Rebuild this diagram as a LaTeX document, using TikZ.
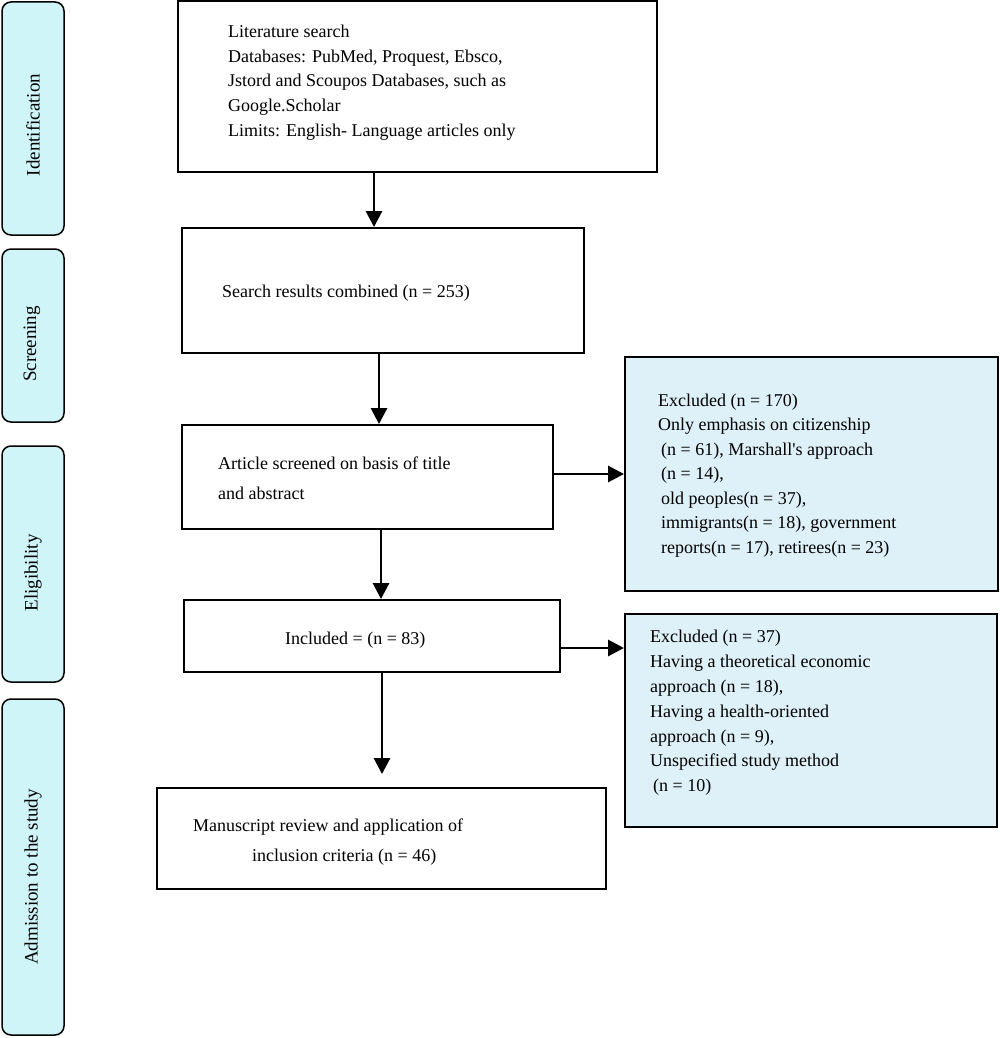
\documentclass[tikz,border=0pt]{standalone}
\usepackage{fontspec}
\setmainfont{Liberation Serif}
\usetikzlibrary{arrows.meta,calc}
\definecolor{barfill}{RGB}{208,245,249}
\definecolor{excfill}{RGB}{222,240,248}
\begin{document}
\begin{tikzpicture}[x=1pt,y=-1pt,
  box/.style={draw=black,line width=1.9pt,inner sep=0pt,rectangle},
  exbox/.style={box,fill=excfill},
  bar/.style={draw=black,line width=1.5pt,fill=barfill,rounded corners=9pt,inner sep=0pt,minimum width=62pt},
  lbl/.style={inner sep=0pt,rotate=90,font=\fontsize{19}{22}\selectfont},
  txt/.style={inner sep=0pt,anchor=west,align=left,font=\fontsize{18}{24.7}\selectfont},
  arr/.style={line width=2.8pt,-{Triangle[width=16pt,length=16pt]}}]
\useasboundingbox (0,0) rectangle (1000,1038);
% phase bars
\node[bar,minimum height=233pt] (idb) at (33,118.5) {};
\node[bar,minimum height=173pt] (scb) at (33,335.5) {};
\node[bar,minimum height=236pt] (elb) at (33,564) {};
\node[bar,minimum height=336pt] (adb) at (33,867) {};
\node[lbl] (idl) at (33,125) {Identification};
\node[lbl] (scl) at (32,344) {Screening};
\node[lbl] (ell) at (33,573) {Eligibility};
\node[lbl] (adl) at (33,877) {Admission to the study};
% main boxes
\node[box,minimum width=479pt,minimum height=171pt] (lit) at (417.5,86.5) {};
\node[box,minimum width=402pt,minimum height=125pt] (search) at (383,290.5) {};
\node[box,minimum width=371pt,minimum height=104pt] (article) at (367.5,477) {};
\node[box,minimum width=376pt,minimum height=72pt] (incl) at (372,636) {};
\node[box,minimum width=449pt,minimum height=101pt] (manu) at (381.5,838.5) {};
\node[exbox,minimum width=373pt,minimum height=234pt] (exc1) at (811.5,474) {};
\node[exbox,minimum width=372pt,minimum height=213pt] (exc2) at (811,720.5) {};
% texts
\node[txt] (littxt) at (228,82.5) {Literature search\\Databases: PubMed, Proquest, Ebsco,\\Jstord and Scoupos Databases, such as\\Google.Scholar\\Limits: English- Language articles only};
\node[txt] (searchtxt) at (222,293) {Search results combined (n = 253)};
\node[txt,font=\fontsize{18}{29.5}\selectfont] (arttxt) at (218,478) {Article screened on basis of title\\and abstract};
\node[txt] (incltxt) at (285,640) {Included = (n = 83)};
\node[txt,font=\fontsize{18}{30}\selectfont] (manutxt) at (193,842) {Manuscript review and application of\\\hspace*{59pt}inclusion criteria (n = 46)};
\node[txt,font=\fontsize{18}{24.5}\selectfont] (exc1txt) at (658,475.5) {Excluded (n = 170)\\Only emphasis on citizenship\\\hspace*{3pt}(n = 61), Marshall\textquotesingle s approach\\\hspace*{3pt}(n = 14),\\\hspace*{3pt}old peoples(n = 37),\\\hspace*{3pt}immigrants(n = 18), government\\\hspace*{3pt}reports(n = 17), retirees(n = 23)};
\node[txt,font=\fontsize{18}{24.8}\selectfont] (exc2txt) at (650,713) {Excluded (n = 37)\\Having a theoretical economic\\approach (n = 18),\\Having a health-oriented\\approach (n = 9),\\Unspecified study method\\\hspace*{3pt}(n = 10)};
% connector guide coordinates
\coordinate (x1) at (374,0);
\coordinate (x2) at (379,0);
\coordinate (x3) at (381,0);
\coordinate (x4) at (382,0);
\coordinate (y6) at (0,648);
% connectors
\draw[arr] (lit.south -| x1) -- (search.north -| x1);
\draw[arr] (search.south -| x2) -- (article.north -| x2);
\draw[arr] (article.south -| x3) -- (incl.north -| x3);
\draw[arr,shorten >=13pt] (incl.south -| x4) -- (manu.north -| x4);
\draw[arr] (article.east |- exc1.west) -- (exc1.west);
\draw[arr] (incl.east |- y6) -- (exc2.west |- y6);
\end{tikzpicture}
\end{document}
